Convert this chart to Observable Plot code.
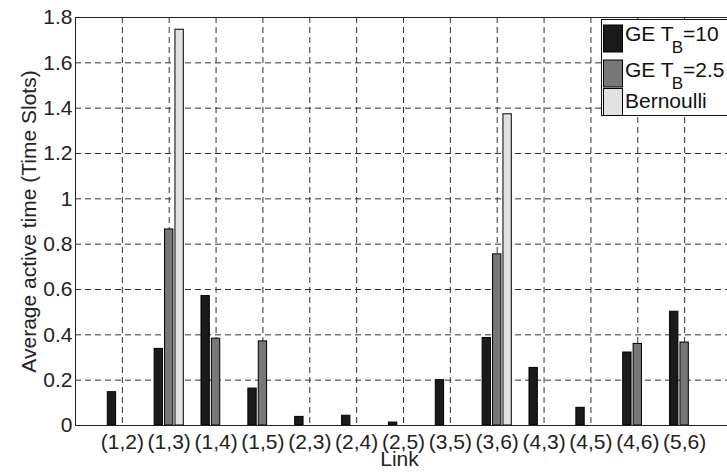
<!DOCTYPE html>
<html>
<head>
<meta charset="utf-8">
<script src="https://cdn.jsdelivr.net/npm/d3@7"></script>
<script src="https://cdn.jsdelivr.net/npm/@observablehq/plot@0.6"></script>
<style>
  html, body { margin: 0; padding: 0; background: #fff; }
  #wrap { position: relative; width: 727px; height: 473px; overflow: hidden; font-family: "Liberation Sans", Arial, Helvetica, sans-serif; }
  #wrap > svg.legend { position: absolute; left: 0; top: 0; pointer-events: none; }
</style>
</head>
<body>
<div id="wrap"></div>
<script>
// ---- data ----
const links = ["(1,2)", "(1,3)", "(1,4)", "(1,5)", "(2,3)", "(2,4)", "(2,5)", "(3,5)", "(3,6)", "(4,3)", "(4,5)", "(4,6)", "(5,6)"];
const ge10 = [0.147, 0.338, 0.571, 0.163, 0.038, 0.043, 0.013, 0.200, 0.386, 0.254, 0.078, 0.322, 0.502];
const ge25 = [0, 0.865, 0.383, 0.371, 0, 0, 0, 0, 0.755, 0, 0, 0.360, 0.366];
const bern = [0, 1.746, 0, 0, 0, 0, 0, 0, 1.373, 0, 0, 0, 0];
const seriesNames = ["GE T_B=10", "GE T_B=2.5", "Bernoulli"];
const seriesColors = ["#1b1b1b", "#777777", "#e2e2e2"];
const yTicks = [0, 0.2, 0.4, 0.6, 0.8, 1, 1.2, 1.4, 1.6, 1.8];
const yLabel = "Average active time (Time Slots)";
const xLabel = "Link";

// ---- build table ----
const seriesValues = [ge10, ge25, bern];
const groupStep = 0.222;  // MATLAB grouped bar spacing (data units)
const barHalf = 0.089;    // half bar width (data units)
const rows = [];
seriesValues.forEach((vals, s) => {
  vals.forEach((v, i) => {
    if (v > 0) rows.push({ pos: i + 1, s, value: v, link: links[i] });
  });
});
const xTickPos = links.map((_, i) => i + 1);
const gridY = yTicks.filter(t => t > 0 && t < 1.8);

const fontSize = 21;

const chart = Plot.plot({
  width: 727,
  height: 473,
  marginLeft: 75,
  marginRight: -4,
  marginTop: 17,
  marginBottom: 48,
  style: { fontFamily: '"Liberation Sans", Arial, Helvetica, sans-serif', fontSize: fontSize + "px", color: "#222", background: "#fff" },
  x: { domain: [0, links.length + 1] },
  y: { domain: [0, 1.8] },
  marks: [
    Plot.ruleY(gridY, { stroke: "#333", strokeWidth: 1, strokeDasharray: "6,4" }),
    Plot.ruleX(xTickPos, { stroke: "#333", strokeWidth: 1, strokeDasharray: "6,4" }),
    Plot.rectY(rows, {
      x1: d => d.pos + (d.s - 1) * groupStep - barHalf,
      x2: d => d.pos + (d.s - 1) * groupStep + barHalf,
      y1: 0,
      y2: "value",
      fill: d => seriesColors[d.s],
      stroke: "#000",
      strokeWidth: 1
    }),
    Plot.axisX({ ticks: xTickPos, tickFormat: p => links[p - 1], tickSize: 0, tickPadding: 9, fontSize, label: null }),
    Plot.axisY({ ticks: yTicks, tickFormat: d3.format("~g"), tickSize: 0, tickPadding: 3, fontSize, label: null }),
    Plot.text([xLabel], { frameAnchor: "bottom", textAnchor: "middle", lineAnchor: "middle", dy: 34, dx: -4, fontSize, fill: "#222" }),
    Plot.text([yLabel], { frameAnchor: "left", textAnchor: "middle", lineAnchor: "middle", dx: -46, rotate: -90, fontSize, fill: "#222" }),
    Plot.frame({ stroke: "#222", strokeWidth: 1 })
  ]
});

const wrap = document.getElementById("wrap");
wrap.appendChild(chart);

// ---- legend overlay (inside plot area, top right) ----
const ns = "http://www.w3.org/2000/svg";
const leg = document.createElementNS(ns, "svg");
leg.setAttribute("class", "legend");
leg.setAttribute("width", 727);
leg.setAttribute("height", 473);
const box = document.createElementNS(ns, "rect");
box.setAttribute("x", 601.5); box.setAttribute("y", 19.5);
box.setAttribute("width", 200); box.setAttribute("height", 96);
box.setAttribute("fill", "#fff"); box.setAttribute("stroke", "#111");
leg.appendChild(box);
const swatchTops = [25, 60, 88.5];
const baselines = [41, 76.5, 107.5];
seriesNames.forEach((name, k) => {
  const sw = document.createElementNS(ns, "rect");
  sw.setAttribute("x", 603.5); sw.setAttribute("y", swatchTops[k]);
  sw.setAttribute("width", 19); sw.setAttribute("height", 27);
  sw.setAttribute("fill", seriesColors[k]); sw.setAttribute("stroke", "#000");
  leg.appendChild(sw);
  const t = document.createElementNS(ns, "text");
  t.setAttribute("x", 625); t.setAttribute("y", baselines[k]);
  t.setAttribute("font-size", fontSize);
  t.setAttribute("font-family", '"Liberation Sans", Arial, Helvetica, sans-serif');
  t.setAttribute("fill", "#111");
  const m = name.match(/^(.*)_(.)(.*)$/);
  if (m) {
    const a = document.createElementNS(ns, "tspan"); a.textContent = m[1];
    const b = document.createElementNS(ns, "tspan"); b.textContent = m[2];
    b.setAttribute("dy", 12); b.setAttribute("dx", -2); b.setAttribute("font-size", 17);
    const c = document.createElementNS(ns, "tspan"); c.textContent = m[3];
    c.setAttribute("dy", -12);
    t.appendChild(a); t.appendChild(b); t.appendChild(c);
  } else {
    t.textContent = name;
  }
  leg.appendChild(t);
});
wrap.appendChild(leg);
</script>
</body>
</html>
